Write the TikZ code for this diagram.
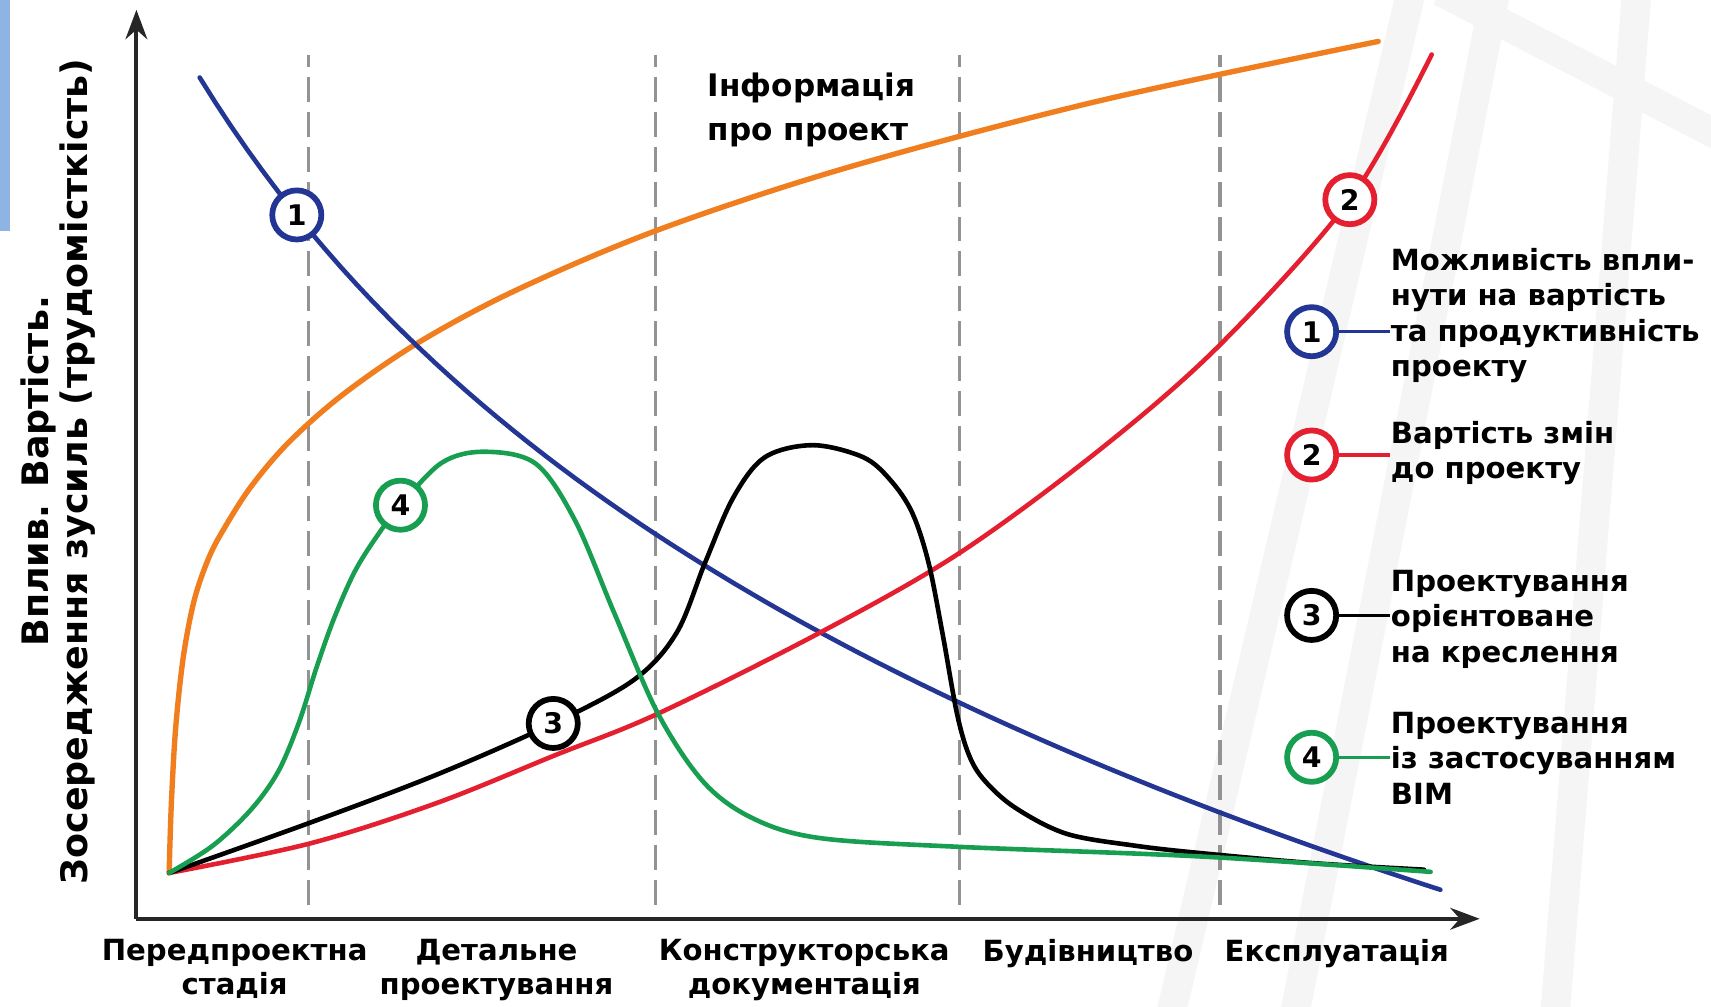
\documentclass[tikz,border=0pt]{standalone}
\usepackage{xcolor}
\usepackage{fontspec}
\setmainfont{DejaVu Sans}
\usepackage{tikz}
\usetikzlibrary{arrows.meta}

\definecolor{lineblue}{RGB}{36,54,148}
\definecolor{linered}{RGB}{228,32,48}
\definecolor{lineorange}{RGB}{240,126,30}
\definecolor{linegreen}{RGB}{24,158,80}
\definecolor{boxblue}{RGB}{141,180,226}

\begin{document}
\begin{tikzpicture}
        \tikzstyle{num}=[circle, draw, line width=1.5pt, fill=white, text=black, inner sep=0pt, minimum size=0.45cm, font=\bfseries\fontsize{7.4}{7.4}\selectfont];
        \tikzstyle{phase}=[gray!85, line width=0.85pt, dash pattern=on 6.5pt off 2.6pt];
        \tikzstyle{curve}=[line width=1.2pt, line join=round, line cap=round];
        \tikzstyle{keytext}=[anchor=north west, align=left, inner sep=0pt, font=\bfseries\fontsize{7.6}{9.2}\selectfont];
        \tikzstyle{stage}=[anchor=north, align=center, inner sep=0pt, font=\bfseries\fontsize{7.6}{8.9}\selectfont];
        \tikzstyle{watermark}=[black!4, line width=0.27cm];

        % Fix the size of the picture
        \useasboundingbox (0,0) rectangle (15.68,9.22);

        % Faint stripes in the background
        \draw[watermark] (10.70,-0.2) -- (12.96,9.42);
        \draw[watermark] (11.84,-0.2) -- (13.73,9.42);
        \draw[watermark] (14.24,-0.2) -- (15.01,9.42);
        \draw[watermark] (13.20,9.30) -- (15.80,7.95);

        % Blue box in the corner
        \fill[boxblue] (0,7.10) rectangle (0.09,9.22);

        % Borders between the stages
        \foreach \x in {2.83,6.01,8.79,11.18}
            \draw[phase] (\x,0.93) -- (\x,8.72);

        % Axes
        \coordinate (O) at (1.25,0.80);
        \coordinate (Ytop) at (1.25,9.13);
        \coordinate (Xend) at (13.56,0.80);
        \draw[black!85, line width=1pt, -{Stealth[length=0.27cm, width=0.2cm]}] (O) -- (Ytop);
        \draw[black!85, line width=1pt, -{Stealth[length=0.27cm, width=0.2cm]}] (O) -- (Xend);

        % Axis labels
        \node[rotate=90, align=center, font=\bfseries\fontsize{9.5}{8.8}\selectfont] (ylabel) at (0.53,4.90)
            {Вплив. Вартість.\\Зосередження зусиль (трудомісткість)};
        \node[stage] (s1) at (2.15,0.62) {Передпроектна\\стадія};
        \node[stage] (s2) at (4.55,0.62) {Детальне\\проектування};
        \node[stage] (s3) at (7.37,0.62) {Конструкторська\\документація};
        \node[stage] (s4) at (9.97,0.62) {Будівництво};
        \node[stage] (s5) at (12.25,0.62) {Експлуатація};

        % Information about the project
        \draw[lineorange, curve, line width=1.4pt] plot[smooth, tension=0.55] coordinates {(1.55,1.22) (1.57,1.85) (1.61,2.55) (1.68,3.20) (1.78,3.72) (1.91,4.10) (2.05,4.37) (2.30,4.76) (2.65,5.17) (3.15,5.61) (3.85,6.09) (4.75,6.57) (6.05,7.12) (7.75,7.68) (10.05,8.29) (12.63,8.84)};
        \node[align=left, anchor=north west, inner sep=0pt, font=\bfseries\fontsize{8.1}{11.6}\selectfont] (info) at (6.48,8.56) {Інформація\\про проект};

        % Curve 1
        \draw[lineblue, curve] plot[domain=1.83:13.20, samples=80] (\x,{13.31-4.615*ln(\x+1.0)});
        % Curve 2
        \draw[linered, curve] plot[smooth, tension=0.55] coordinates {(1.55,1.22) (2.84,1.49) (4.00,1.86) (5.09,2.30) (6.03,2.68) (7.51,3.42) (8.79,4.15) (10.08,5.10) (11.18,6.06) (12.37,7.39) (13.12,8.72)};
        % Curve 3
        \draw[black, curve] plot[smooth, tension=0.55] coordinates {(1.55,1.22) (2.84,1.68) (4.00,2.12) (5.07,2.59) (5.81,2.99) (6.20,3.42) (6.46,4.06) (6.72,4.66) (7.01,5.03) (7.45,5.14) (7.91,5.03) (8.16,4.82) (8.36,4.52) (8.51,4.06) (8.64,3.40) (8.77,2.68) (8.88,2.30) (9.02,2.07) (9.30,1.82) (9.77,1.58) (10.40,1.47) (11.02,1.40) (12.03,1.31) (13.05,1.25)};
        % Curve 4
        \draw[linegreen, curve] plot[smooth, tension=0.55] coordinates {(1.55,1.22) (1.95,1.47) (2.30,1.80) (2.55,2.15) (2.74,2.60) (2.90,3.10) (3.06,3.55) (3.25,3.98) (3.45,4.30) (3.67,4.59) (4.05,4.98) (4.44,5.08) (4.91,4.97) (5.27,4.45) (5.63,3.60) (6.03,2.68) (6.45,2.05) (6.90,1.72) (7.51,1.54) (8.77,1.46) (11.02,1.37) (13.11,1.23)};

        % Numbers on the curves
        \node[num, draw=lineblue] (c1) at (2.72,7.25) {1};
        \node[num, draw=linered] (c2) at (12.37,7.39) {2};
        \node[num, draw=black] (c3) at (5.07,2.59) {3};
        \node[num, draw=linegreen] (c4) at (3.67,4.59) {4};

        % Legend
        \node[num, draw=lineblue] (k1) at (12.02,6.18) {1};
        \node[num, draw=linered] (k2) at (12.02,5.05) {2};
        \node[num, draw=black] (k3) at (12.02,3.58) {3};
        \node[num, draw=linegreen] (k4) at (12.02,2.28) {4};
        \node[keytext] (k1t) at (12.74,6.95) {Можливість впли-\\нути на вартість\\та продуктивність\\проекту};
        \node[keytext] (k2t) at (12.74,5.37) {Вартість змін\\до проекту};
        \node[keytext] (k3t) at (12.74,4.00) {Проектування\\орієнтоване\\на креслення};
        \node[keytext] (k4t) at (12.74,2.70) {Проектування\\із застосуванням\\BIM};
        \draw[lineblue, line width=0.9pt] (k1.east) -- (k1t.west |- k1.east);
        \draw[linered, line width=0.9pt] (k2.east) -- (k2t.west |- k2.east);
        \draw[black, line width=0.9pt] (k3.east) -- (k3t.west |- k3.east);
        \draw[linegreen, line width=0.9pt] (k4.east) -- (k4t.west |- k4.east);
    \end{tikzpicture}
\end{document}
